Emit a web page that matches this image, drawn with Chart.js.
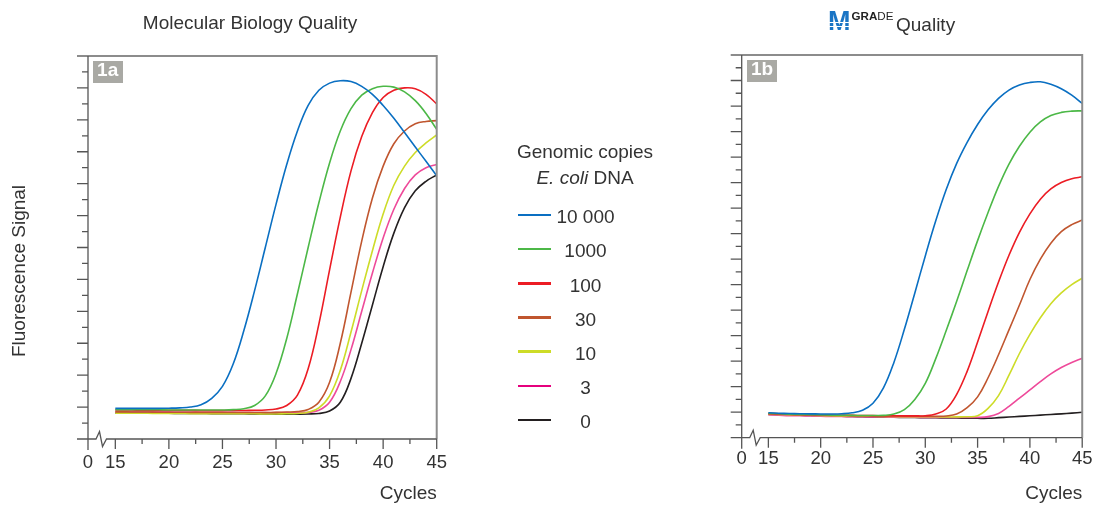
<!DOCTYPE html>
<html>
<head>
<meta charset="utf-8">
<script src="https://cdn.jsdelivr.net/npm/chart.js@4.4.1/dist/chart.umd.min.js"></script>
<style>
  html, body { margin: 0; padding: 0; background: #fff; }
  body { width: 1103px; height: 505px; position: relative; overflow: hidden;
         font-family: 'Liberation Sans', Arial, sans-serif; color: #333; }
  canvas { position: absolute; top: 0; }
  .txt { position: absolute; white-space: nowrap; font-size: 19px; line-height: 19px; }
  .center { text-align: center; }
  .swatch { position: absolute; left: 518px; width: 33px; height: 2.5px; }
  .panel { position: absolute; background: #a9a9a4; color: #fff; font-weight: bold;
           font-size: 19px; line-height: 18px; text-align: center; height: 21.7px; }
  .mlogo { position: absolute; left: 828px; top: 8px; font-size: 27px; line-height: 27px; font-weight: 900;
           background: linear-gradient(to bottom, #1a74c4 0, #1a74c4 52%, #fff 52%, #fff 57%, #1a74c4 57%, #1a74c4 66%,
             #fff 66%, #fff 71%, #1a74c4 71%, #1a74c4 80%, #fff 80%, #fff 85%, #1a74c4 85%);
           -webkit-background-clip: text; background-clip: text; color: transparent; }
</style>
</head>
<body>
<canvas id="chartA" width="460" height="505" style="left:0px"></canvas>
<canvas id="chartB" width="453" height="505" style="left:650px"></canvas>

<div class="txt center" style="left:100px; width:300px; top:13px;">Molecular Biology Quality</div>
<div class="mlogo">M</div>
<div class="txt" style="left:851.5px; top:10px; font-size:11.6px; line-height:12px; color:#222;"><b>GRA</b>DE</div>
<div class="txt" style="left:896px; top:15.2px;">Quality</div>

<div class="txt center" style="left:-81px; width:200px; top:261px; height:20px; line-height:20px; transform:rotate(-90deg);">Fluorescence Signal</div>

<div class="panel" style="left:92.7px; top:61px; width:30px;">1a</div>
<div class="panel" style="left:747.3px; top:60px; width:29.4px;">1b</div>

<div id="legend"></div>

<script>
// cycles 15..45
const cycles = [15, 16, 17, 18, 19, 20, 21, 22, 23, 24, 25, 26, 27, 28, 29, 30,
                31, 32, 33, 34, 35, 36, 37, 38, 39, 40, 41, 42, 43, 44, 45];

const copyLabels = ['10 000', '1000', '100', '30', '10', '3', '0'];

// 1a - Molecular Biology Quality
const mb10000 = [1.92, 1.92, 1.92, 1.92, 1.92, 1.93, 1.95, 2.0, 2.15, 2.55, 3.3, 4.7, 6.8, 9.3, 12.0, 14.7,
                 17.2, 19.3, 20.9, 21.85, 22.3, 22.45, 22.4, 22.1, 21.6, 20.9, 20.1, 19.2, 18.3, 17.4, 16.5];
const mb1000 = [1.84, 1.84, 1.83, 1.83, 1.83, 1.82, 1.82, 1.82, 1.82, 1.82, 1.82, 1.84, 1.9, 2.1, 2.7, 4.1,
                6.3, 9.1, 12.0, 14.8, 17.3, 19.3, 20.7, 21.55, 21.95, 22.1, 22.05, 21.75, 21.2, 20.4, 19.4];
const mb100 = [1.82, 1.82, 1.81, 1.81, 1.8, 1.8, 1.8, 1.8, 1.79, 1.79, 1.79, 1.79, 1.79, 1.8, 1.82, 1.88,
               2.1, 2.75, 4.4, 7.2, 10.6, 13.9, 16.8, 18.95, 20.45, 21.4, 21.85, 22.0, 21.95, 21.6, 21.0];
const mb30 = [1.7, 1.7, 1.69, 1.69, 1.68, 1.68, 1.68, 1.67, 1.67, 1.67, 1.67, 1.66, 1.66, 1.66, 1.66, 1.67,
              1.69, 1.72, 1.85, 2.3, 3.55, 6.0, 9.2, 12.4, 15.1, 17.1, 18.5, 19.3, 19.75, 19.9, 19.95];
const mb10 = [1.62, 1.62, 1.61, 1.61, 1.6, 1.6, 1.6, 1.59, 1.59, 1.59, 1.58, 1.58, 1.58, 1.58, 1.57, 1.57,
              1.58, 1.6, 1.68, 1.95, 2.7, 4.3, 6.7, 9.3, 11.8, 14.1, 15.9, 17.1, 17.95, 18.55, 19.05];
const mb3 = [1.72, 1.72, 1.71, 1.71, 1.7, 1.7, 1.69, 1.69, 1.68, 1.68, 1.67, 1.67, 1.66, 1.66, 1.65, 1.65,
             1.65, 1.65, 1.67, 1.8, 2.3, 3.6, 5.6, 8.0, 10.4, 12.6, 14.4, 15.7, 16.55, 17.0, 17.2];
const mb0 = [1.63, 1.63, 1.62, 1.62, 1.61, 1.61, 1.6, 1.6, 1.6, 1.59, 1.59, 1.58, 1.58, 1.57, 1.57, 1.56,
             1.56, 1.56, 1.57, 1.6, 1.75, 2.3, 3.8, 6.0, 8.4, 10.8, 12.9, 14.5, 15.55, 16.15, 16.55];

// 1b - M-GRADE Quality
const mg10000 = [1.95, 1.92, 1.9, 1.88, 1.87, 1.86, 1.86, 1.88, 1.95, 2.15, 2.7, 3.9, 5.9, 8.5, 11.35, 14.25,
                 17.0, 19.45, 21.5, 23.15, 24.55, 25.7, 26.6, 27.25, 27.65, 27.85, 27.9, 27.7, 27.35, 26.85, 26.2];
const mg1000 = [1.92, 1.88, 1.85, 1.83, 1.81, 1.79, 1.77, 1.76, 1.75, 1.74, 1.74, 1.75, 1.85, 2.2, 3.0, 4.26,
                6.2, 8.4, 10.7, 13.1, 15.45, 17.65, 19.7, 21.45, 22.85, 23.95, 24.75, 25.25, 25.5, 25.6, 25.62];
const mg100 = [1.9, 1.87, 1.84, 1.82, 1.8, 1.78, 1.77, 1.76, 1.75, 1.74, 1.73, 1.72, 1.72, 1.71, 1.71, 1.72,
               1.85, 2.25, 3.4, 5.2, 7.5, 9.9, 12.2, 14.3, 16.1, 17.55, 18.7, 19.5, 20.0, 20.3, 20.45];
const mg30 = [1.88, 1.85, 1.82, 1.8, 1.78, 1.76, 1.75, 1.74, 1.73, 1.72, 1.71, 1.7, 1.7, 1.69, 1.69, 1.68,
              1.68, 1.7, 1.85, 2.35, 3.2, 4.7, 6.5, 8.45, 10.4, 12.4, 14.0, 15.25, 16.15, 16.7, 17.06];
const mg10 = [1.86, 1.83, 1.8, 1.78, 1.76, 1.74, 1.72, 1.71, 1.7, 1.69, 1.68, 1.67, 1.66, 1.65, 1.65, 1.64,
              1.64, 1.63, 1.63, 1.64, 1.72, 2.3, 3.3, 4.9, 6.6, 8.1, 9.4, 10.5, 11.35, 12.0, 12.5];
const mg3 = [1.8, 1.76, 1.72, 1.72, 1.7, 1.68, 1.67, 1.66, 1.65, 1.64, 1.63, 1.62, 1.61, 1.6, 1.6, 1.59,
             1.59, 1.58, 1.58, 1.58, 1.59, 1.65, 1.9, 2.45, 3.1, 3.75, 4.4, 5.0, 5.5, 5.9, 6.22];
const mg0 = [1.83, 1.8, 1.78, 1.76, 1.74, 1.72, 1.7, 1.68, 1.66, 1.64, 1.62, 1.61, 1.6, 1.59, 1.58, 1.57,
             1.56, 1.55, 1.54, 1.53, 1.52, 1.52, 1.57, 1.62, 1.67, 1.72, 1.77, 1.82, 1.87, 1.93, 1.99];

const lineColors = ['#0a6fc2', '#4cb847', '#ec1c24', '#c0562f', '#cddc28', '#ee4a9a', '#231f20'];
const legendColors = ['#0a6fc2', '#4cb847', '#ec1c24', '#c0562f', '#cddc28', '#e5007d', '#231f20'];

const xMin = 12.45;           // position of the "0" label before the axis break
const majorX = [15, 20, 25, 30, 35, 40, 45];
const minorX = [17.5, 22.5, 27.5, 32.5, 37.5, 42.5];

// legend (html)
const legendRows = [215, 249, 283.3, 317.7, 351.7, 386, 420];
let lg = '<div class="txt center" style="left:485px; width:200px; top:142.4px;">Genomic copies</div>' +
         '<div class="txt center" style="left:485px; width:200px; top:167.9px;"><i>E. coli</i> DNA</div>';
copyLabels.forEach((lab, i) => {
  const ly = legendRows[i];
  lg += `<div class="swatch" style="top:${ly - 1.25}px; background:${legendColors[i]}"></div>`;
  lg += `<div class="txt center" style="left:535.5px; width:100px; top:${ly - 7.6}px;">${lab}</div>`;
});
document.getElementById('legend').innerHTML = lg;

// axis lines, ticks, frame and axis break
const axisDecor = {
  id: 'axisDecor',
  afterDraw(chart) {
    const { ctx, chartArea: a, scales: { x, y } } = chart;
    ctx.save();
    ctx.strokeStyle = '#8c8c8c';
    ctx.lineWidth = 2;
    ctx.beginPath();
    ctx.moveTo(a.left - 11, a.top);
    ctx.lineTo(a.right, a.top);
    ctx.lineTo(a.right, a.bottom);
    ctx.stroke();

    ctx.strokeStyle = '#555';
    ctx.lineWidth = 1.3;
    ctx.beginPath();
    ctx.moveTo(a.left, a.top);
    ctx.lineTo(a.left, a.bottom + 11);
    for (let v = 1; v < y.max; v++) {
      const py = y.getPixelForValue(v);
      const len = v % 2 ? 6 : 11;
      ctx.moveTo(a.left - len, py);
      ctx.lineTo(a.left, py);
    }
    // x axis with break
    const b = a.bottom;
    const x0 = x.getPixelForValue(xMin);
    ctx.moveTo(x0 - 11, b);
    ctx.lineTo(x0 + 8, b);
    ctx.lineTo(x0 + 11.5, b - 7.5);
    ctx.lineTo(x0 + 14.5, b + 7.5);
    ctx.lineTo(x0 + 18.5, b);
    ctx.lineTo(a.right, b);
    majorX.forEach(v => {
      const px = x.getPixelForValue(v);
      ctx.moveTo(px, b);
      ctx.lineTo(px, b + 10);
    });
    minorX.forEach(v => {
      const px = x.getPixelForValue(v);
      ctx.moveTo(px, b);
      ctx.lineTo(px, b + 5);
    });
    ctx.stroke();
    ctx.restore();
  }
};

function makeChart(id, series, yMax, pad, xHeight, labelPad) {
  const datasets = series.map((vals, i) => ({
    label: copyLabels[i],
    data: vals.map((v, k) => ({ x: cycles[k], y: v })),
    borderColor: lineColors[i],
    backgroundColor: lineColors[i],
    borderWidth: 1.6,
    pointRadius: 0,
    tension: 0.4,
    fill: false
  }));

  new Chart(document.getElementById(id), {
    type: 'line',
    data: { datasets: datasets },
    options: {
      responsive: false,
      animation: false,
      layout: { padding: pad },
      plugins: { legend: { display: false }, tooltip: { enabled: false } },
      scales: {
        x: {
          type: 'linear',
          min: xMin,
          max: 45,
          grid: { display: false, drawTicks: false },
          border: { display: false },
          afterBuildTicks: s => { s.ticks = [xMin].concat(majorX).map(v => ({ value: v })); },
          afterFit: s => { s.height = xHeight; },
          ticks: {
            autoSkip: false,
            maxRotation: 0,
            padding: labelPad,
            color: '#333',
            font: { family: "'Liberation Sans', Arial, sans-serif", size: 18.5 },
            callback: v => (v < 15 ? '0' : String(v))
          },
          title: {
            display: true,
            text: 'Cycles',
            align: 'end',
            color: '#333',
            padding: { top: 0, bottom: 0 },
            font: { family: "'Liberation Sans', Arial, sans-serif", size: 19 }
          }
        },
        y: { display: false, min: 0, max: yMax }
      }
    },
    plugins: [axisDecor]
  });
}

makeChart('chartA', [mb10000, mb1000, mb100, mb30, mb10, mb3, mb0], 24,
          { left: 88, top: 56, right: 23, bottom: 0 }, 66, 13);
makeChart('chartB', [mg10000, mg1000, mg100, mg30, mg10, mg3, mg0], 30,
          { left: 91.7, top: 55, right: 11.3, bottom: 0 }, 67.3, 10.5);
</script>
</body>
</html>
